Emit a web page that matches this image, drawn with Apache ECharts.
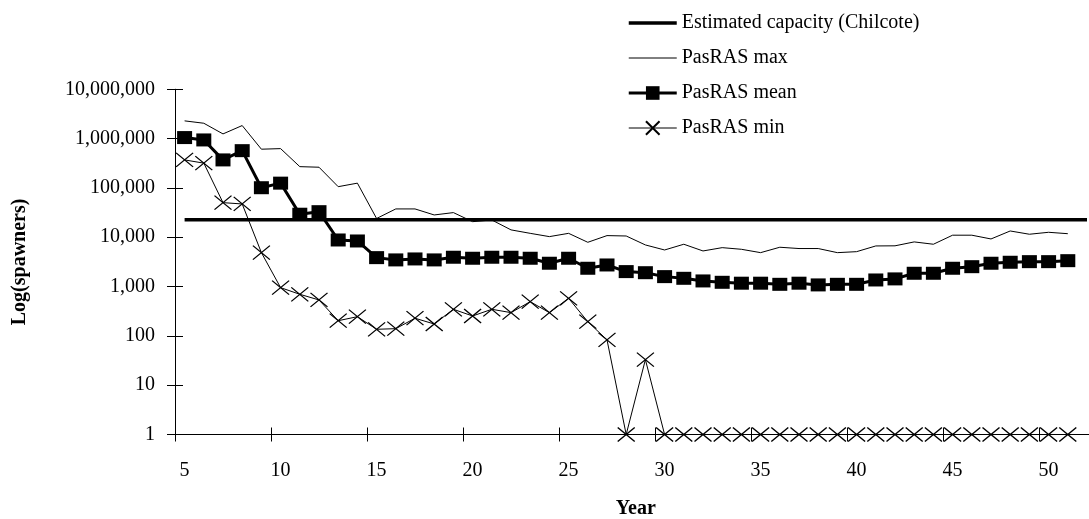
<!DOCTYPE html>
<html>
<head>
<meta charset="utf-8">
<script src="https://cdn.jsdelivr.net/npm/echarts@6/dist/echarts.min.js"></script>
<style>
html,body{margin:0;padding:0;background:#fff;}
#chart{width:1089px;height:519px;}
</style>
</head>
<body>
<div id="chart"></div>
<script>
// Categories (years), last category 52 only carries the capacity line
var years = ['5','6','7','8','9','10','11','12','13','14','15','16','17','18','19','20','21','22','23','24','25','26','27','28','29','30','31','32','33','34','35','36','37','38','39','40','41','42','43','44','45','46','47','48','49','50','51','52'];

var capacity = [22600,22600,22600,22600,22600,22600,22600,22600,22600,22600,22600,22600,22600,22600,22600,22600,22600,22600,22600,22600,22600,22600,22600,22600,22600,22600,22600,22600,22600,22600,22600,22600,22600,22600,22600,22600,22600,22600,22600,22600,22600,22600,22600,22600,22600,22600,22600,22600];

var pasMax = [2290000,2050000,1245000,1840000,610000,627000,270000,263000,106000,125000,24000,37500,37500,28300,31600,20700,22400,14100,12000,10300,12000,7900,10800,10600,6980,5520,7210,5270,6150,5700,4870,6270,5900,5900,4870,5100,6660,6700,8040,7210,11000,11000,9230,13400,11500,12600,11800];

var pasMean = [1050000,940000,370000,570000,101000,125000,29300,33000,8800,8400,3860,3470,3630,3470,3930,3750,3930,3930,3750,2970,3750,2350,2740,2010,1910,1590,1470,1300,1220,1170,1170,1110,1170,1080,1110,1110,1360,1430,1860,1860,2350,2530,2970,3110,3200,3200,3350];

var pasMin = [370000,318000,50300,47300,4870,950,697,535,203,245,136,140,228,174,346,253,346,296,494,296,578,194,83,1,33,1,1,1,1,1,1,1,1,1,1,1,1,1,1,1,1,1,1,1,1,1,1];

var yTicks = [1,10,100,1000,10000,100000,1000000,10000000];

var FONT = 'Liberation Serif';
var crossPath = 'path://M0,0L20,16M20,0L0,16';

function fmt(v){ return Math.round(v).toLocaleString('en-US'); }

var chart = echarts.init(document.getElementById('chart'), null, {renderer:'canvas'});
var option = {
  animation: false,
  backgroundColor: '#fff',
  textStyle: {fontFamily: FONT, color: '#000'},
  grid: {left: 175, top: 89.3, width: 921.6, height: 345.2, containLabel: false, outerBoundsMode: 'none'},
  legend: {
    orient: 'vertical', left: 622, top: 8, itemWidth: 48, itemHeight: 17, itemGap: 15,
    textStyle: {fontFamily: FONT, fontSize: 20, color: '#000'},
    data: [
      {name: 'Estimated capacity (Chilcote)', itemStyle: {opacity: 0}, lineStyle: {color: '#000', width: 3.5}},
      {name: 'PasRAS max', itemStyle: {opacity: 0}, lineStyle: {color: '#000', width: 1}},
      {name: 'PasRAS mean', lineStyle: {color: '#000', width: 3}},
      {name: 'PasRAS min', lineStyle: {color: '#000', width: 1}}
    ]
  },
  xAxis: [{
    type: 'category', data: years, boundaryGap: true, position: 'bottom',
    axisLine: {show: true, onZero: false, lineStyle: {color: '#000', width: 1}},
    axisTick: {show: true, alignWithLabel: false, interval: 4, length: 7, inside: false, lineStyle: {color: '#000', width: 1}},
    axisLabel: {show: true, interval: 4, margin: 26, fontFamily: FONT, fontSize: 20, color: '#000'},
    splitLine: {show: false},
    name: 'Year', nameLocation: 'middle', nameGap: 64,
    nameTextStyle: {fontFamily: FONT, fontSize: 20, fontWeight: 'bold', color: '#000'}
  }, {
    type: 'category', data: years, boundaryGap: true, position: 'bottom',
    axisLine: {show: true, onZero: false, lineStyle: {color: '#000', width: 1}},
    axisTick: {show: true, alignWithLabel: false, interval: 4, length: 7, inside: true, lineStyle: {color: '#000', width: 1}},
    axisLabel: {show: false}, splitLine: {show: false}
  }],
  yAxis: [{
    type: 'log', logBase: 10, min: 1, max: 10000000, position: 'left',
    axisLine: {show: true, onZero: false, lineStyle: {color: '#000', width: 1}},
    axisTick: {show: true, length: 8, inside: false, lineStyle: {color: '#000', width: 1}},
    axisLabel: {margin: 20, fontFamily: FONT, fontSize: 20, color: '#000', formatter: function(v){ return fmt(v); }},
    splitLine: {show: false},
    name: 'Log(spawners)', nameLocation: 'middle', nameGap: 145, nameRotate: 90,
    nameTextStyle: {fontFamily: FONT, fontSize: 20, fontWeight: 'bold', color: '#000'}
  }, {
    type: 'log', logBase: 10, min: 1, max: 10000000, position: 'left',
    axisLine: {show: true, onZero: false, lineStyle: {color: '#000', width: 1}},
    axisTick: {show: true, length: 8, inside: true, lineStyle: {color: '#000', width: 1}},
    axisLabel: {show: false}, splitLine: {show: false}
  }],
  series: [
    {name: 'Estimated capacity (Chilcote)', type: 'line', data: capacity, symbol: 'none',
     lineStyle: {color: '#000', width: 3.5}, itemStyle: {color: '#000'}, z: 2},
    {name: 'PasRAS max', type: 'line', data: pasMax, symbol: 'none',
     lineStyle: {color: '#000', width: 1}, itemStyle: {color: '#000'}, z: 3},
    {name: 'PasRAS mean', type: 'line', data: pasMean, symbol: 'rect', symbolSize: [15, 13],
     showSymbol: true, showAllSymbol: true,
     lineStyle: {color: '#000', width: 3}, itemStyle: {color: '#000'}, z: 4},
    {name: 'PasRAS min', type: 'line', data: pasMin, symbol: crossPath, symbolSize: [17, 14],
     showSymbol: true, showAllSymbol: true,
     lineStyle: {color: '#000', width: 1},
     itemStyle: {color: 'rgba(0,0,0,0)', borderColor: '#000', borderWidth: 1.2}, z: 5}
  ]
};
chart.setOption(option);
</script>
</body>
</html>
